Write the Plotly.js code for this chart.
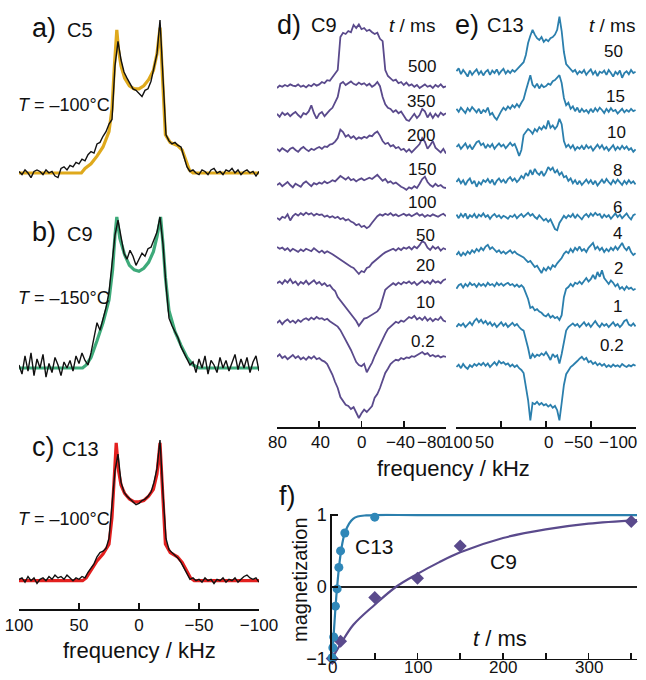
<!DOCTYPE html>
<html><head><meta charset="utf-8">
<script src="https://cdn.plot.ly/plotly-3.0.1.min.js"></script>
<style>html,body{margin:0;padding:0;background:#fff}#chart{width:646px;height:680px}</style>
</head><body><div id="chart"></div>
<script>
// ---------------- DATA ----------------
const FREQ_WIDE = [
 100,97.5,95,92.5,90,87.5,85,82.5,80,77.5,
 75,72.5,70,67.5,65,62.5,60,57.5,55,52.5,
 50,47.5,45,42.5,40,37.5,35,32.5,30,27.5,
 25,22.5,20,17.5,15,12.5,10,7.5,5,2.5,
 0,-2.5,-5,-7.5,-10,-12.5,-15,-17.5,-20,-22.5,
 -25,-27.5,-30,-32.5,-35,-37.5,-40,-42.5,-45,-47.5,
 -50,-52.5,-55,-57.5,-60,-62.5,-65,-67.5,-70,-72.5,
 -75,-77.5,-80,-82.5,-85,-87.5,-90,-92.5,-95,-97.5,
 -100];
const FREQ_D = [
 80,77.5,75,72.5,70,67.5,65,62.5,60,57.5,
 55,52.5,50,47.5,45,42.5,40,37.5,35,32.5,
 30,27.5,25,22.5,20,17.5,15,12.5,10,7.5,
 5,2.5,0,-2.5,-5,-7.5,-10,-12.5,-15,-17.5,
 -20,-22.5,-25,-27.5,-30,-32.5,-35,-37.5,-40,-42.5,
 -45,-47.5,-50,-52.5,-55,-57.5,-60,-62.5,-65,-67.5,
 -70,-72.5,-75,-77.5,-80];

// tick labels
const WIDE_TICKS = [100, 50, 0, -50, -100];
const WIDE_TICK_TEXT = ['100', '50', '0', '−50', '−100'];
const D_TICKS = [80, 40, 0, -40, -80];
const D_TICK_TEXT = ['80', '40', '0', '−40', '−80'];
const F_TICKS = [0, 50, 100, 150, 200, 250, 300, 350];
const F_LABEL_TICKS = [0, 100, 200, 300];
const F_LABEL_TEXT = ['0', '100', '200', '300'];

// panel a: C5, T = -100 C
const A_EXP = [
 0.01,-0.01,0.02,0.00,-0.03,0.01,0.02,0.01,-0.01,0.02,
 0.00,0.01,-0.02,-0.03,0.03,0.04,0.02,0.05,0.04,0.07,
 0.06,0.09,0.08,0.12,0.14,0.13,0.19,0.20,0.24,0.27,
 0.32,0.35,0.70,0.86,0.74,0.66,0.62,0.58,0.55,0.54,
 0.52,0.50,0.54,0.55,0.60,0.68,0.78,1.00,0.60,0.25,
 0.21,0.19,0.20,0.18,0.17,0.10,0.04,0.01,0.02,0.00,
 -0.01,0.02,0.01,-0.01,0.02,0.03,0.00,0.01,-0.01,0.02,
 0.01,0.03,0.00,0.02,-0.01,0.01,0.02,0.00,0.01,-0.02,
 0.01];
const A_FIT_F = [100,48,45,40,35,30,25,22.5,20.5,18.5,17,15,12,8,4,0,-4,-8,-12,-15,-17.5,-19.5,-22,-26,-32,-36,-39,-42,-45,-100];
const A_FIT   = [0,0,0.03,0.06,0.11,0.17,0.27,0.42,0.70,0.935,0.80,0.70,0.62,0.57,0.55,0.55,0.57,0.61,0.67,0.78,0.95,0.60,0.25,0.20,0.18,0.15,0.08,0.02,0,0];

// panel b: C9, T = -150 C
const B_EXP = [
 0.02,-0.04,0.08,-0.02,0.10,-0.05,0.06,0.00,0.09,-0.06,
 0.03,-0.03,0.07,0.02,-0.05,0.04,0.00,0.05,-0.02,0.08,
 0.03,0.10,0.05,0.02,0.10,0.20,0.30,0.25,0.32,0.40,
 0.50,0.68,0.88,0.98,0.86,0.76,0.72,0.78,0.74,0.68,
 0.72,0.76,0.74,0.79,0.80,0.85,0.90,1.00,0.82,0.55,
 0.33,0.28,0.24,0.20,0.14,0.10,0.06,0.02,0.04,-0.03,
 0.06,0.00,0.08,-0.04,0.05,0.02,-0.03,0.07,0.00,0.05,
 -0.02,0.04,0.09,-0.01,0.06,0.00,0.07,-0.03,0.04,0.08,
 -0.02];
const B_FIT_F = [100,47,44,40,35,30,25,22,20,18.5,16,12,8,4,0,-4,-8,-12,-15,-18,-20,-22,-25,-30,-35,-40,-45,-50,-100];
const B_FIT   = [0,0,0.02,0.07,0.18,0.30,0.45,0.65,0.88,1.00,0.86,0.75,0.68,0.65,0.64,0.66,0.70,0.77,0.87,1.00,0.82,0.60,0.38,0.24,0.15,0.07,0.02,0,0];

// panel c: C13, T = -100 C
const C_EXP = [
 0.01,0.02,-0.01,0.03,0.00,0.02,-0.02,0.01,0.02,0.00,
 0.03,0.01,0.04,0.02,0.03,0.01,0.04,0.02,0.00,0.02,
 0.01,0.03,0.02,0.06,0.09,0.12,0.17,0.20,0.21,0.23,
 0.30,0.52,0.78,0.90,0.70,0.63,0.60,0.58,0.56,0.54,
 0.55,0.57,0.58,0.60,0.63,0.70,0.80,1.00,0.62,0.30,
 0.22,0.20,0.18,0.16,0.13,0.09,0.04,0.01,0.02,0.00,
 0.01,-0.01,0.02,0.00,0.01,-0.02,0.01,0.00,0.02,-0.01,
 0.01,0.00,0.02,-0.01,0.01,0.03,0.04,0.02,0.01,0.02,
 -0.01];
const C_FIT_F = [100,47,44,40,35,30,25,22.5,20.5,19,17,15,12,8,4,0,-4,-8,-12,-15,-17.5,-19.5,-22,-26,-32,-36,-40,-43,-46,-100];
const C_FIT   = [0,0,0.02,0.07,0.14,0.19,0.26,0.45,0.75,0.98,0.78,0.68,0.62,0.58,0.56,0.56,0.57,0.60,0.65,0.76,0.98,0.62,0.26,0.20,0.17,0.13,0.07,0.02,0,0];

// panel d: C9 recovery spectra, t / ms
const D_TIMES = ['500','350','200','150','100','50','20','10','0.2'];
const D_500 = [0.00,0.04,0.02,0.05,0.03,0.06,0.04,0.03,0.06,0.02, 0.04,0.01,0.05,0.03,0.07,0.04,0.06,0.10,0.08,0.13, 0.12,0.18,0.22,0.30,0.85,0.92,0.90,0.95,0.93,1.05, 1.00,1.06,0.98,1.00,0.95,0.97,0.93,0.90,0.92,0.82, 0.78,0.30,0.20,0.16,0.12,0.14,0.08,0.10,0.05,0.09, 0.04,0.06,0.02,0.05,0.00,0.03,0.06,0.02,0.04,0.00, 0.05,0.02,0.06,0.01,0.03];
const D_350 = [0.02,-0.03,0.04,0.00,0.03,-0.02,0.02,0.05,0.00,-0.04, 0.03,0.01,0.06,0.16,0.03,-0.06,0.02,0.05,-0.02,0.04, 0.08,0.12,0.20,0.30,0.52,0.55,0.50,0.53,0.56,0.52, 0.50,0.54,0.51,0.53,0.49,0.52,0.47,0.50,0.55,0.48, 0.30,0.18,0.12,0.10,0.05,0.08,0.03,0.06,-0.02,-0.08, -0.10,-0.03,0.02,-0.05,0.00,0.10,0.06,-0.04,0.03,-0.05, 0.02,-0.03,0.04,0.00,0.03];
const D_200 = [0.02,-0.02,0.03,0.00,-0.03,0.02,0.04,0.00,-0.03,0.02, 0.05,0.01,-0.02,0.02,0.00,0.03,0.05,0.02,0.06,0.05, 0.09,0.10,0.14,0.20,0.34,0.30,0.22,0.25,0.20,0.23, 0.18,0.21,0.19,0.22,0.20,0.24,0.23,0.28,0.31,0.24, 0.15,0.10,0.12,0.06,0.08,0.03,0.05,0.00,0.02,-0.03, 0.01,-0.04,0.00,0.05,0.10,0.20,0.14,0.02,0.08,0.15, 0.04,0.00,-0.04,0.02,-0.06];
const D_150 = [0.00,0.03,-0.02,0.02,0.05,0.00,-0.04,0.02,0.00,-0.03, 0.03,0.06,0.02,-0.02,0.03,0.01,0.04,0.02,0.06,0.03, 0.05,0.08,0.06,0.10,0.15,0.12,0.09,0.13,0.08,0.10, 0.06,0.09,0.11,0.08,0.10,0.12,0.10,0.14,0.17,0.12, 0.07,0.10,0.04,0.06,0.02,0.04,0.00,-0.03,-0.05,-0.08, -0.04,-0.06,-0.02,-0.05,0.02,0.10,0.14,0.05,0.00,-0.03, 0.02,-0.02,0.00,-0.04,-0.05];
const D_100 = [0.00,-0.03,0.02,0.00,0.06,-0.04,0.03,0.07,0.04,0.08, 0.05,0.09,0.06,0.08,0.04,0.07,0.05,0.06,0.02,0.04, 0.01,0.03,0.00,0.02,-0.02,0.00,-0.04,-0.02,-0.06,-0.08, -0.12,-0.10,-0.15,-0.13,-0.17,-0.14,-0.08,-0.02,0.03,0.06, 0.04,0.07,0.05,0.08,0.04,0.06,0.03,0.05,0.07,0.04, 0.06,0.03,0.05,0.08,0.04,0.06,0.02,0.05,0.03,0.06, 0.04,0.02,0.05,0.07,0.03];
const D_50  = [0.05,0.02,0.04,0.00,0.03,-0.02,0.02,0.00,-0.03,0.01, -0.02,0.02,0.00,-0.02,0.03,0.00,-0.04,-0.01,-0.05,-0.02, -0.04,-0.07,-0.10,-0.13,-0.16,-0.20,-0.22,-0.25,-0.28,-0.30, -0.36,-0.40,-0.35,-0.37,-0.30,-0.28,-0.22,-0.18,-0.14,-0.10, -0.07,-0.04,-0.02,0.00,0.02,-0.01,0.03,0.00,0.04,0.02, 0.05,0.01,0.06,0.03,0.08,0.15,0.12,0.04,0.00,0.06, 0.02,0.05,-0.01,0.03,0.01];
const D_20  = [0.03,0.06,0.02,0.08,0.04,0.10,0.03,0.06,0.00,0.05, 0.02,0.07,0.01,0.04,0.08,0.02,0.05,0.00,0.03,-0.02, 0.00,-0.06,-0.10,-0.20,-0.26,-0.30,-0.38,-0.42,-0.48,-0.55, -0.60,-0.68,-0.62,-0.56,-0.55,-0.52,-0.50,-0.47,-0.44,-0.38, -0.22,-0.08,-0.04,0.00,0.03,0.00,0.04,0.01,0.05,0.03, 0.06,0.02,0.05,0.00,0.04,0.07,0.03,0.06,0.02,0.08, 0.04,0.06,0.03,0.08,0.10];
const D_10  = [0.00,0.04,-0.02,0.03,0.06,0.01,0.04,0.00,0.05,0.02, 0.06,0.08,0.05,0.09,0.06,0.10,0.07,0.08,0.05,0.07, 0.03,0.00,-0.03,-0.06,-0.12,-0.20,-0.28,-0.38,-0.45,-0.55, -0.65,-0.70,-0.72,-0.68,-0.82,-0.74,-0.66,-0.55,-0.45,-0.38, -0.25,-0.18,-0.10,-0.06,-0.02,0.02,0.00,0.04,0.02,0.06, 0.10,0.08,0.12,0.06,0.09,0.05,0.10,0.04,0.08,0.03, 0.07,0.05,0.10,0.04,0.02];
const D_02  = [0.02,0.06,0.00,0.03,-0.02,0.02,0.05,0.00,0.03,-0.02, 0.01,-0.03,0.02,-0.01,0.03,-0.02,0.00,-0.04,-0.06,-0.10, -0.18,-0.28,-0.40,-0.50,-0.65,-0.72,-0.78,-0.80,-0.85,-0.82, -0.90,-1.00,-0.92,-0.86,-0.90,-0.84,-0.80,-0.66,-0.60,-0.50, -0.36,-0.25,-0.18,-0.10,-0.06,-0.03,-0.04,0.00,-0.02,0.01, 0.00,0.03,0.02,0.05,0.07,0.10,0.06,0.08,0.03,0.05, 0.02,0.04,0.01,0.03,0.02];

// panel e: C13 recovery spectra, t / ms
const E_TIMES = ['50','15','10','8','6','4','2','1','0.2'];
const E_50 = [0.03,0.08,-0.02,0.05,0.00,-0.06,0.04,-0.03,0.02,0.06, -0.02,0.03,-0.04,0.02,0.05,-0.03,0.04,0.00,0.06,-0.02, 0.03,0.07,-0.01,0.04,0.00,0.05,0.02,0.06,0.10,0.14, 0.18,0.30,0.50,0.62,0.72,0.64,0.58,0.55,0.60,0.52, 0.56,0.53,0.58,0.60,0.64,0.72,0.94,0.70,0.35,0.15, 0.10,0.06,0.02,0.05,-0.02,0.03,0.00,0.05,-0.03,0.02, 0.06,-0.02,0.03,-0.05,0.02,0.00,0.04,-0.03,0.05,0.00, -0.06,0.02,-0.02,0.04,-0.08,0.00,0.03,-0.02,0.05,0.00, 0.02];
const E_15 = [0.02,-0.03,0.04,0.00,-0.05,0.03,-0.02,0.05,0.00,-0.04, 0.02,-0.06,0.00,-0.03,0.04,-0.08,-0.05,-0.12,-0.16,-0.08, -0.02,0.04,0.00,0.06,0.02,0.08,0.04,0.10,0.05,0.12, 0.18,0.32,0.45,0.58,0.42,0.38,0.44,0.36,0.42,0.38, 0.40,0.44,0.42,0.48,0.50,0.55,0.58,0.45,0.20,0.08, 0.12,0.02,0.06,-0.02,0.04,-0.04,0.02,-0.03,0.00,-0.05, 0.02,-0.04,0.03,-0.02,0.04,0.00,-0.05,0.02,-0.03,0.03, -0.02,0.00,-0.06,-0.02,0.02,-0.04,0.00,-0.03,0.02,-0.02, 0.00];
const E_10 = [0.00,0.04,-0.03,0.02,0.06,-0.02,0.03,-0.04,0.02,0.08, 0.10,0.03,0.06,-0.02,0.04,0.00,0.05,-0.03,0.02,0.06, 0.01,0.04,-0.02,0.03,0.07,0.02,0.05,-0.04,-0.15,-0.05, 0.20,0.25,0.30,0.27,0.22,0.30,0.26,0.33,0.29,0.35, 0.30,0.44,0.32,0.36,0.30,0.35,0.47,0.38,0.10,0.00, 0.04,-0.02,0.03,-0.05,0.00,-0.03,0.02,-0.04,0.03,-0.02, 0.01,-0.06,0.00,0.04,-0.02,0.03,-0.04,0.00,-0.06,-0.02, 0.03,-0.05,0.00,-0.04,0.02,-0.03,0.01,-0.05,-0.02,-0.08, -0.04];
const E_8 = [0.00,0.05,-0.02,0.03,-0.05,0.02,0.06,-0.03,0.02,-0.08, 0.00,-0.04,0.03,0.00,0.05,-0.02,0.04,-0.05,0.02,0.06, 0.00,0.04,-0.02,0.05,0.08,0.02,0.06,0.00,0.04,0.10, 0.06,0.15,0.10,0.20,0.12,0.22,0.15,0.12,0.18,0.10, 0.16,0.25,0.20,0.24,0.15,0.20,0.12,0.16,0.08,0.10, 0.02,0.06,-0.02,0.03,-0.04,0.02,-0.05,0.00,0.04,-0.02, 0.03,-0.04,0.02,-0.06,0.00,0.04,-0.02,0.05,0.00,-0.04, 0.03,-0.02,0.04,0.00,-0.05,0.02,-0.03,0.03,-0.02,0.01, -0.04];
const E_6 = [0.04,-0.02,0.05,0.00,0.06,-0.03,0.03,0.00,0.05,-0.02, 0.04,0.01,0.06,0.00,0.03,-0.03,0.02,0.05,0.00,0.03, -0.02,0.02,0.00,-0.03,0.02,0.00,0.04,-0.02,0.02,0.05, 0.00,0.04,0.07,0.02,0.05,0.00,-0.03,0.03,-0.02,-0.06, -0.03,-0.08,-0.04,-0.12,-0.20,-0.22,-0.10,-0.04,0.02,-0.02, 0.03,0.00,0.05,-0.02,0.04,0.00,-0.04,0.02,0.05,0.00, 0.06,0.02,0.07,0.03,0.05,-0.02,0.04,0.00,0.03,-0.03, 0.02,0.06,0.00,0.04,-0.02,0.03,0.06,0.00,-0.04,0.03, 0.05];
const E_4 = [0.00,0.05,-0.02,0.04,0.00,0.06,0.02,0.08,0.04,0.10, 0.06,0.12,0.08,0.14,0.17,0.10,0.13,0.08,0.05,0.08, 0.03,0.06,0.02,0.05,0.08,0.03,0.06,0.02,0.00,-0.02, -0.04,-0.08,-0.12,-0.10,-0.16,-0.20,-0.18,-0.25,-0.30,-0.22, -0.26,-0.20,-0.24,-0.17,-0.20,-0.14,-0.10,-0.05,0.02,0.06, 0.03,0.10,0.05,0.12,0.08,0.14,0.07,0.10,0.05,0.12, 0.16,0.20,0.10,0.14,0.08,0.12,0.05,0.10,0.06,0.12, 0.08,0.14,0.09,0.15,0.20,0.12,0.08,0.14,0.05,0.00, 0.03];
const E_2 = [0.02,0.08,0.10,0.04,0.10,0.06,0.12,0.08,0.10,0.05, 0.11,0.07,0.10,0.06,0.12,0.08,0.10,0.06,0.12,0.08, 0.11,0.07,0.10,0.12,0.08,0.10,0.06,0.09,0.05,0.08, 0.04,-0.05,-0.15,-0.30,-0.28,-0.34,-0.32,-0.36,-0.38,-0.42, -0.44,-0.40,-0.46,-0.43,-0.47,-0.45,-0.50,-0.42,-0.12,0.02, 0.05,0.10,0.06,0.12,0.10,0.14,0.10,0.15,0.20,0.14, 0.18,0.25,0.18,0.30,0.22,0.33,0.20,0.15,0.10,0.16, 0.12,0.06,0.10,0.02,0.05,0.00,0.06,0.02,0.04,0.00, 0.02];
const E_1 = [0.00,0.05,0.02,0.06,0.00,0.04,0.08,0.03,0.10,0.14, 0.08,0.12,0.06,0.10,0.04,0.08,0.02,0.06,0.00,0.04, 0.08,0.02,0.06,0.00,0.04,0.07,0.02,0.05,0.00,-0.04, -0.06,-0.20,-0.35,-0.53,-0.45,-0.50,-0.46,-0.48,-0.44,-0.47, -0.42,-0.48,-0.55,-0.45,-0.50,-0.47,-0.61,-0.45,-0.22,-0.06, 0.00,0.03,0.06,0.02,0.05,0.00,0.04,0.08,0.02,0.06, 0.00,0.05,0.10,0.04,0.00,0.06,0.02,0.05,0.00,0.04, 0.08,0.02,0.05,0.00,0.04,0.10,0.12,0.04,0.02,0.06, 0.01];
const E_02 = [0.00,0.04,-0.02,0.05,0.00,-0.03,0.03,0.00,0.05,0.02, 0.06,0.03,0.07,0.02,0.06,0.00,0.04,0.08,0.03,0.10, 0.06,0.08,0.04,0.06,0.01,0.04,0.00,0.03,-0.02,-0.05, -0.10,-0.30,-0.55,-0.89,-0.60,-0.62,-0.58,-0.63,-0.60,-0.64, -0.62,-0.66,-0.63,-0.68,-0.65,-0.72,-0.89,-0.60,-0.30,-0.12, -0.06,0.00,0.03,0.06,0.10,0.14,0.17,0.12,0.15,0.08, 0.10,0.05,0.08,0.03,0.06,0.02,0.05,0.00,0.03,0.00, 0.04,0.01,0.03,0.00,0.05,0.02,0.00,0.03,0.01,0.04, 0.02];

// panel f: magnetization recovery
const C13_T = [0.2,1,2,4,6,8,10,15,50];
const C13_M = [-0.99,-0.85,-0.70,-0.27,-0.03,0.27,0.50,0.75,0.97];
const C9_T  = [0.2,10,50,100,150,350];
const C9_M  = [-1.0,-0.76,-0.15,0.12,0.57,0.91];
const C13_FIT_T = [0,0.5,1,2,3,4,5,6,8,10,12,15,20,25,30,40,50,100,356.7];
const C13_FIT_M = [-1,-0.92,-0.84,-0.66,-0.48,-0.30,-0.14,0.0,0.25,0.45,0.60,0.75,0.88,0.95,0.98,0.995,1,1,1];
const C9_FIT_T  = [0,10,25,50,75,100,125,150,200,250,300,356.7];
const C9_FIT_M  = [-1,-0.80,-0.53,-0.25,0.0,0.18,0.34,0.48,0.68,0.80,0.88,0.93];

// ---------------- LAYOUT / STYLE ----------------
const W = 646, H = 680;
const FONT = 'Liberation Sans, Arial, Helvetica, sans-serif';
const INK = '#111111';
const PURPLE = '#5a4a8c', TEAL = '#2b7fad', TEAL_PT = '#2f87b8';
const YELLOW = '#dfa91c', GREEN = '#3eaa7a', RED = '#e3201f';

const xd = (a, b) => [a / W, b / W];
const yd = (top, bot) => [1 - bot / H, 1 - top / H];
const yr = (top, bot, basePx, unitPx) => [-(bot - basePx) / unitPx, (basePx - top) / unitPx];

const STACK_BOT = 427, STACK_TOP = 5, STACK_UNIT = 60;
const D_BASE_PX = [88,115,150,185,218,250,285,323,358];
const E_BASE_PX = [73,110,147,182,217,255,290,327,367];
const D_LABEL_POS = [[422,67],[421,101],[421,136],[422,169],[422,202],[426,235],[426,266],[426,302],[423,341]];
const E_LABEL_POS = [[613,52],[615,97],[616,133],[617,170],[617,207],[617,233],[618,269],[617,307],[612,345]];
const D_TICK_PX = [277.5, 320, 361, 400, 432];
const E_TICK_PX = [458, 484.5, 548, 578, 618];
// panel f x axis geometry (px): x0 at t=0, px per ms
const F_X0 = 332, F_X1 = 637, F_TMAX = 356.7;

const traces = [];
function line(x, y, xa, ya, color, width) {
  traces.push({x, y, xaxis: xa, yaxis: ya, type: 'scatter', mode: 'lines',
    line: {color, width}, hoverinfo: 'skip', showlegend: false});
}
line(A_FIT_F, A_FIT, 'x', 'y', YELLOW, 3.2);
line(FREQ_WIDE, A_EXP, 'x', 'y', INK, 1.4);
line(B_FIT_F, B_FIT, 'x2', 'y2', GREEN, 3.2);
line(FREQ_WIDE, B_EXP, 'x2', 'y2', INK, 1.4);
line(C_FIT_F, C_FIT, 'x3', 'y3', RED, 3.2);
line(FREQ_WIDE, C_EXP, 'x3', 'y3', INK, 1.4);
const D_SERIES = [D_500, D_350, D_200, D_150, D_100, D_50, D_20, D_10, D_02];
D_SERIES.forEach((s, i) => {
  const off = (STACK_BOT - D_BASE_PX[i]) / STACK_UNIT;
  line(FREQ_D, s.map(v => v + off), 'x4', 'y4', PURPLE, 1.8);
});
const E_SERIES = [E_50, E_15, E_10, E_8, E_6, E_4, E_2, E_1, E_02];
E_SERIES.forEach((s, i) => {
  const off = (STACK_BOT - E_BASE_PX[i]) / STACK_UNIT;
  line(FREQ_WIDE, s.map(v => v + off), 'x5', 'y5', TEAL, 1.8);
});
traces.push({x: C9_FIT_T, y: C9_FIT_M, xaxis: 'x6', yaxis: 'y6', mode: 'lines', line: {color: PURPLE, width: 2.2, shape: 'spline'}, showlegend: false, hoverinfo: 'skip', cliponaxis: false});
traces.push({x: C13_FIT_T, y: C13_FIT_M, xaxis: 'x6', yaxis: 'y6', mode: 'lines', line: {color: TEAL, width: 2.2, shape: 'spline'}, showlegend: false, hoverinfo: 'skip', cliponaxis: false});
traces.push({x: C9_T, y: C9_M, xaxis: 'x6', yaxis: 'y6', mode: 'markers', marker: {symbol: 'diamond', size: 10, color: PURPLE}, showlegend: false, cliponaxis: false});
traces.push({x: C13_T, y: C13_M, xaxis: 'x6', yaxis: 'y6', mode: 'markers', marker: {symbol: 'circle', size: 9, color: TEAL_PT}, showlegend: false, cliponaxis: false});

function xaxis(dom, range, anchor, extra) {
  return Object.assign({domain: dom, range, autorange: false, anchor, showgrid: false, zeroline: false,
    showline: true, linecolor: INK, linewidth: 1.6, ticks: 'inside', ticklen: 6, tickwidth: 1.6, tickcolor: INK,
    tickfont: {family: FONT, size: 17, color: INK}, ticklabeloverflow: 'allow', fixedrange: true}, extra || {});
}
function hiddenY(dom, range, anchor) {
  return {domain: dom, range, autorange: false, anchor, visible: false, fixedrange: true};
}
const LEFT_X = xd(19, 259);

const layout = {
  width: W, height: H, margin: {l: 0, r: 0, t: 0, b: 0},
  paper_bgcolor: '#ffffff', plot_bgcolor: 'rgba(0,0,0,0)', showlegend: false,
  font: {family: FONT, color: INK},
  xaxis:  xaxis(LEFT_X, [100, -100], 'y', {visible: false}),
  yaxis:  hiddenY(yd(8, 185), yr(8, 185, 173, 153), 'x'),
  xaxis2: xaxis(LEFT_X, [100, -100], 'y2', {visible: false}),
  yaxis2: hiddenY(yd(200, 380), yr(200, 380, 368, 151), 'x2'),
  xaxis3: xaxis(LEFT_X, [100, -100], 'y3', {tickvals: WIDE_TICKS, ticktext: WIDE_TICK_TEXT}),
  yaxis3: hiddenY(yd(425, 609), yr(425, 609, 580.7, 140.7), 'x3'),
  xaxis4: xaxis(xd(277, 446), [80, -80], 'y4', {tickvals: D_TICKS, showticklabels: false}),
  yaxis4: hiddenY(yd(STACK_TOP, STACK_BOT), [0, (STACK_BOT - STACK_TOP) / STACK_UNIT], 'x4'),
  xaxis5: xaxis(xd(456, 636), [100.5, -100.5], 'y5', {tickvals: WIDE_TICKS, showticklabels: false}),
  yaxis5: hiddenY(yd(STACK_TOP, STACK_BOT), [0, (STACK_BOT - STACK_TOP) / STACK_UNIT], 'x5'),
  xaxis6: xaxis(xd(F_X0, F_X1), [0, F_TMAX], 'y6', {tickvals: F_TICKS, showticklabels: false}),
  yaxis6: {domain: yd(513.6, 658.5), range: [-1, 1.02], autorange: false, anchor: 'x6', showgrid: false,
    zeroline: true, zerolinecolor: '#222', zerolinewidth: 1.5, showline: true, linecolor: INK, linewidth: 1.6,
    ticks: 'inside', ticklen: 6, tickwidth: 1.6, tickcolor: INK, tickvals: [-1, 0, 1], ticktext: ['−1', '0', '1'],
    tickfont: {family: FONT, size: 18, color: INK}, fixedrange: true},
  annotations: []
};

function ann(text, x, y, size, extra) {
  layout.annotations.push(Object.assign({text, x: x / W, y: 1 - y / H, xref: 'paper', yref: 'paper',
    showarrow: false, xanchor: 'left', yanchor: 'middle', font: {family: FONT, size, color: INK}}, extra || {}));
}
ann('a)', 30, 28, 27); ann('C5', 65, 30, 20);
ann('<i>T</i> = –100°C', 16, 105, 18);
ann('b)', 30, 232, 27); ann('C9', 65, 234, 20);
ann('<i>T</i> = –150°C', 16, 298, 18);
ann('c)', 30, 447, 27); ann('C13', 60, 449, 20);
ann('<i>T</i> = –100°C', 16, 519, 18);
ann('frequency / kHz', 139, 650, 22, {xanchor: 'center'});
ann('d)', 275, 25, 27); ann('C9', 309, 25, 20);
ann('<i>t</i> / ms', 412, 26, 19, {xanchor: 'center'});
ann('e)', 453, 25, 27); ann('C13', 485, 25, 20);
ann('<i>t</i> / ms', 612, 26, 19, {xanchor: 'center'});
ann('frequency / kHz', 453, 468, 22, {xanchor: 'center'});
D_TIMES.forEach((t, i) => ann(t, D_LABEL_POS[i][0], D_LABEL_POS[i][1], 17, {xanchor: 'center'}));
E_TIMES.forEach((t, i) => ann(t, E_LABEL_POS[i][0], E_LABEL_POS[i][1], 17, {xanchor: 'center'}));
D_TICK_TEXT.forEach((t, i) => ann(t, D_TICK_PX[i], 442, 17, {xanchor: 'center'}));
WIDE_TICK_TEXT.forEach((t, i) => ann(t, E_TICK_PX[i], 442, 17, {xanchor: 'center'}));
// panel f x tick labels placed on the axis's data coordinates
F_LABEL_TICKS.forEach((t, i) => layout.annotations.push({text: F_LABEL_TEXT[i], x: t, xref: 'x6',
  y: 1.5 / H, yref: 'paper', yanchor: 'bottom', xanchor: 'center', showarrow: false,
  font: {family: FONT, size: 17, color: INK}}));
ann('f)', 277, 496, 27);
ann('magnetization', 300, 580, 20, {xanchor: 'center', textangle: -90});
ann('C13', 374, 546, 21, {xanchor: 'center'});
ann('C9', 503, 561, 21, {xanchor: 'center'});
ann('<i>t</i> / ms', 500, 638, 22, {xanchor: 'center'});

Plotly.newPlot('chart', traces, layout, {staticPlot: true, displayModeBar: false});
</script></body></html>
